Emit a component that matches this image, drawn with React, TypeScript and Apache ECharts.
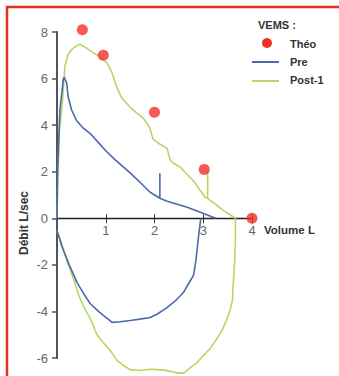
import React, { useEffect, useRef } from "react";
import * as echarts from "echarts";

const xTicks = [0, 1, 2, 3, 4];
const yTicks = [-6, -4, -2, 0, 2, 4, 6, 8];

const theo: [number, number][] = [
  [0.52, 8.1], [0.95, 7.0], [2.0, 4.55], [3.02, 2.1], [4.0, 0],
];

const preExp: [number, number][] = [
  [0, 0], [0.01, 2.0], [0.04, 3.6], [0.06, 4.65], [0.1, 5.4], [0.13, 6.0], [0.15, 6.05],
  [0.2, 5.8], [0.23, 5.2], [0.3, 4.65], [0.4, 4.2], [0.54, 3.87], [0.7, 3.6],
  [0.85, 3.25], [1.0, 2.9], [1.2, 2.5], [1.5, 1.95], [1.75, 1.45], [1.91, 1.12],
  [2.01, 0.99], [2.11, 0.86], [2.11, 1.93], [2.11, 0.86], [2.26, 0.73], [2.5, 0.58],
  [2.67, 0.47], [2.94, 0.26], [3.1, 0.13], [3.25, 0],
];

const preInsp: [number, number][] = [
  [2.95, 0], [2.92, -0.5], [2.89, -1.03], [2.85, -1.8], [2.8, -2.45], [2.7, -2.8],
  [2.59, -3.2], [2.45, -3.5], [2.25, -3.85], [2.05, -4.12], [1.91, -4.26], [1.7, -4.33],
  [1.5, -4.39], [1.3, -4.44], [1.13, -4.47], [1.03, -4.3], [0.95, -4.17], [0.85, -4.0],
  [0.68, -3.66], [0.55, -3.25], [0.41, -2.75], [0.25, -2.0], [0.1, -1.2], [0.02, -0.65],
  [0, -0.55],
];

const postExp: [number, number][] = [
  [0, 0], [0.02, 1.6], [0.05, 3.8], [0.12, 5.2], [0.16, 6.5], [0.22, 7.0], [0.3, 7.25],
  [0.4, 7.4], [0.47, 7.48], [0.61, 7.3], [0.75, 7.1], [0.88, 6.93], [1.03, 6.66],
  [1.13, 6.24], [1.23, 5.6], [1.33, 5.16], [1.5, 4.77], [1.62, 4.55], [1.77, 4.3],
  [1.9, 3.9], [1.97, 3.4], [2.1, 3.2], [2.26, 3.0], [2.32, 2.5], [2.4, 2.35], [2.53, 2.19],
  [2.66, 1.9], [2.79, 1.63], [2.92, 1.25], [3.04, 0.9], [3.09, 0.86], [3.09, 2.05],
  [3.09, 0.86], [3.14, 0.77], [3.28, 0.55], [3.41, 0.34], [3.55, 0.15], [3.66, 0],
];

const postInsp: [number, number][] = [
  [3.66, 0], [3.66, -1.0], [3.64, -2.0], [3.61, -3.0], [3.6, -3.5], [3.55, -3.95],
  [3.47, -4.4], [3.39, -4.8], [3.27, -5.2], [3.14, -5.6], [3.0, -5.9], [2.87, -6.2],
  [2.72, -6.45], [2.6, -6.65], [2.5, -6.65], [2.38, -6.6], [2.2, -6.52], [2.05, -6.5],
  [1.9, -6.48], [1.7, -6.54], [1.5, -6.5], [1.35, -6.3], [1.23, -6.1], [1.1, -5.7],
  [0.95, -5.33], [0.82, -5.0], [0.68, -4.3], [0.55, -3.8], [0.47, -3.44], [0.33, -2.54],
  [0.2, -1.8], [0.08, -1.0], [0, -0.55],
];

const BLUE = "#4a6aab";
const GREEN = "#b9d565";
const RED = "#f2302a";
const FONT = "Liberation Sans, Arial, sans-serif";

const W = 339;
const H = 376;
const GRID = { left: 57, right: 87, top: 32, bottom: 18 };

export default function App() {
  const ref = useRef<HTMLDivElement>(null);
  useEffect(() => {
    if (!ref.current) return;
    const chart = echarts.init(ref.current, null, { renderer: "svg" });
    const xMin = xTicks[0];
    const xMax = xTicks[xTicks.length - 1];
    const yMin = yTicks[0];
    const yMax = yTicks[yTicks.length - 1];
    const gridH = H - GRID.top - GRID.bottom;
    // distance of the zero line from grid bottom / top
    const zeroFromBottom = (gridH * (0 - yMin)) / (yMax - yMin);
    const zeroFromTop = gridH - zeroFromBottom;
    const lineSeries = (name: string, data: [number, number][], color: string, z: number) => ({
      type: "line",
      name,
      data,
      showSymbol: false,
      symbol: "none",
      smooth: false,
      clip: false,
      z,
      lineStyle: { color, width: 1.6 },
      itemStyle: { color },
    });
    chart.setOption({
      animation: false,
      backgroundColor: "#ffffff",
      grid: GRID,
      xAxis: [
        {
          type: "value",
          position: "bottom",
          offset: -zeroFromBottom,
          min: xMin,
          max: xMax,
          interval: 1,
          axisLine: { show: true, onZero: false, lineStyle: { color: "#222", width: 1.3 } },
          axisTick: { show: true, inside: false, length: 5, lineStyle: { color: "#333" } },
          axisLabel: {
            showMinLabel: false,
            color: "#666",
            fontSize: 13,
            fontFamily: FONT,
            margin: 6,
          },
          splitLine: { show: false },
        },
        {
          type: "value",
          position: "top",
          offset: -zeroFromTop,
          min: xMin,
          max: xMax,
          interval: 1,
          axisLine: { show: false, onZero: false },
          axisTick: { show: true, inside: false, length: 4, lineStyle: { color: "#333" } },
          axisLabel: { show: false },
          splitLine: { show: false },
        },
      ],
      yAxis: {
        type: "value",
        min: yMin,
        max: yMax,
        interval: 2,
        axisLine: { show: true, onZero: false, lineStyle: { color: "#555", width: 2 } },
        axisTick: { show: true, length: 5, lineStyle: { color: "#555", width: 1.5 } },
        axisLabel: { color: "#666", fontSize: 13, fontFamily: FONT, margin: 9 },
        splitLine: { show: false },
      },
      series: [
        lineSeries("Post-1", postExp, GREEN, 2),
        lineSeries("Post-1", postInsp, GREEN, 2),
        lineSeries("Pre", preExp, BLUE, 3),
        lineSeries("Pre", preInsp, BLUE, 3),
        {
          type: "scatter",
          name: "Théo",
          data: theo,
          symbol: "circle",
          symbolSize: 11,
          clip: false,
          z: 5,
          itemStyle: { color: RED },
        },
      ],
      graphic: [
        {
          type: "rect",
          shape: { x: 7, y: 7, width: 400, height: 400 },
          style: { fill: "none", stroke: "#e0341e", lineWidth: 2.5 },
          silent: true,
        },
        {
          type: "text",
          x: 24,
          y: 223,
          rotation: Math.PI / 2,
          style: {
            text: "Débit L/sec",
            fill: "#333",
            font: `bold 12px ${FONT}`,
            align: "center",
            verticalAlign: "middle",
          },
        },
        {
          type: "text",
          x: 264,
          y: 230,
          style: {
            text: "Volume L",
            fill: "#333",
            font: `bold 11.5px ${FONT}`,
            align: "left",
            verticalAlign: "middle",
          },
        },
        {
          type: "text",
          x: 258,
          y: 25,
          style: {
            text: "VEMS :",
            fill: "#333",
            font: `bold 11px ${FONT}`,
            align: "left",
            verticalAlign: "middle",
          },
        },
        { type: "circle", shape: { cx: 267, cy: 43, r: 5 }, style: { fill: RED } },
        {
          type: "text",
          x: 290,
          y: 44,
          style: { text: "Théo", fill: "#333", font: `bold 11px ${FONT}`, verticalAlign: "middle" },
        },
        {
          type: "line",
          shape: { x1: 252, y1: 62, x2: 279, y2: 62 },
          style: { stroke: BLUE, lineWidth: 2 },
        },
        {
          type: "text",
          x: 290,
          y: 62,
          style: { text: "Pre", fill: "#333", font: `bold 11px ${FONT}`, verticalAlign: "middle" },
        },
        {
          type: "line",
          shape: { x1: 252, y1: 81, x2: 279, y2: 81 },
          style: { stroke: GREEN, lineWidth: 2 },
        },
        {
          type: "text",
          x: 290,
          y: 80,
          style: { text: "Post-1", fill: "#333", font: `bold 11px ${FONT}`, verticalAlign: "middle" },
        },
      ],
    });
    return () => chart.dispose();
  }, []);
  return (
    <div
      ref={ref}
      style={{ position: "fixed", left: 0, top: 0, width: W, height: H, background: "#fff" }}
    />
  );
}
